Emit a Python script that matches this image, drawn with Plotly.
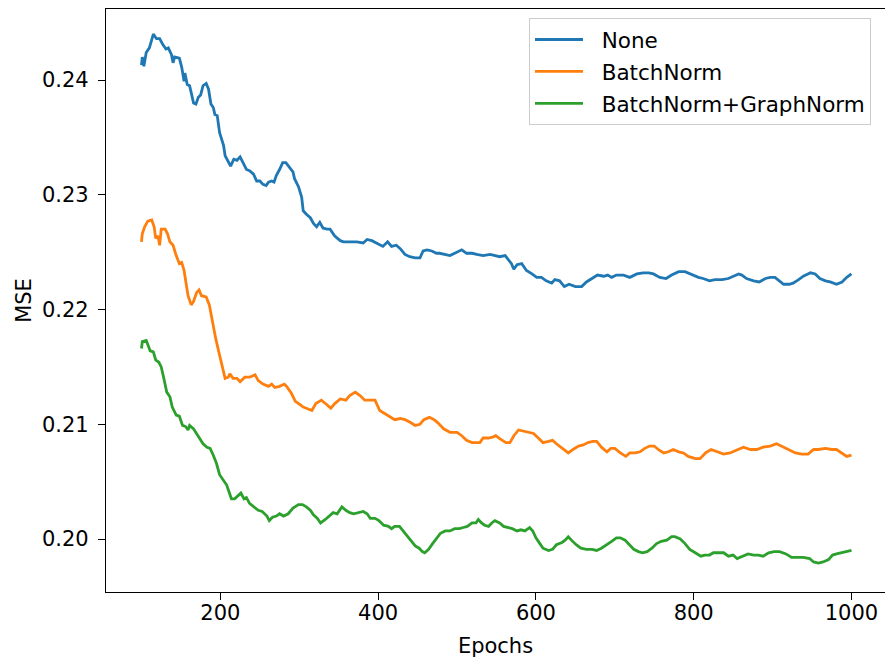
import plotly.graph_objects as go

# ---------------- data ----------------
series_names = ["None", "BatchNorm", "BatchNorm+GraphNorm"]
series_colors = ["#1f77b4", "#ff7f0e", "#2ca02c"]

epochs_none = [
    100, 101, 103, 106, 110, 115, 119, 123, 127, 131,
    134, 138, 140, 142, 148, 151, 154, 155, 158, 161,
    163, 166, 169, 172, 175, 178, 182, 185, 188, 191,
    193, 196, 199, 204, 206, 210, 213, 217, 221, 225,
    229, 233, 237, 242, 246, 250, 254, 258, 261, 265,
    268, 271, 275, 279, 283, 287, 292, 294, 299, 303,
    305, 309, 314, 318, 322, 326, 330, 335, 339, 345,
    352, 356, 364, 373, 381, 386, 392, 398, 402, 406,
    412, 417, 423, 428, 434, 440, 447, 453, 457, 462,
    468, 474, 478, 483, 491, 497, 506, 512, 519, 525,
    533, 542, 548, 554, 561, 565, 569, 572, 576, 582,
    588, 595, 601, 607, 613, 620, 624, 630, 636, 642,
    650, 658, 664, 671, 678, 686, 691, 696, 702, 711,
    719, 728, 736, 743, 749, 757, 765, 772, 781, 789,
    798, 806, 812, 820, 827, 836, 844, 850, 857, 861,
    867, 876, 883, 891, 897, 903, 909, 914, 921, 926,
    933, 939, 948, 954, 960, 967, 973, 978, 981, 988,
    994, 1000,
]
mse_none = [
    0.2413, 0.2420, 0.2412, 0.2424, 0.2428, 0.2440, 0.2436, 0.2436, 0.2431, 0.2427,
    0.2428, 0.2422, 0.2415, 0.2420, 0.2419, 0.2411, 0.2399, 0.2406, 0.2396, 0.2395,
    0.2389, 0.2380, 0.2379, 0.2385, 0.2387, 0.2395, 0.2397, 0.2392, 0.2379, 0.2376,
    0.2370, 0.2369, 0.2354, 0.2343, 0.2334, 0.2328, 0.2325, 0.2331, 0.2330, 0.2333,
    0.2327, 0.2322, 0.2321, 0.2318, 0.2312, 0.2312, 0.2309, 0.2308, 0.2311, 0.2312,
    0.2311, 0.2317, 0.2322, 0.2328, 0.2328, 0.2324, 0.2320, 0.2314, 0.2307, 0.2298,
    0.2286, 0.2283, 0.2280, 0.2275, 0.2272, 0.2276, 0.2271, 0.2270, 0.2270, 0.2264,
    0.2260, 0.2259, 0.2259, 0.2259, 0.2258, 0.2261, 0.2260, 0.2258, 0.2257, 0.2255,
    0.2259, 0.2255, 0.2256, 0.2253, 0.2248, 0.2246, 0.2245, 0.2245, 0.2251, 0.2252,
    0.2251, 0.2249, 0.2249, 0.2248, 0.2247, 0.2249, 0.2252, 0.2249, 0.2249, 0.2248,
    0.2247, 0.2248, 0.2247, 0.2246, 0.2247, 0.2243, 0.2240, 0.2235, 0.2239, 0.2240,
    0.2234, 0.2231, 0.2228, 0.2228, 0.2225, 0.2223, 0.2226, 0.2225, 0.2220, 0.2222,
    0.2220, 0.2220, 0.2224, 0.2227, 0.2230, 0.2229, 0.2230, 0.2228, 0.2230, 0.2230,
    0.2228, 0.2231, 0.2232, 0.2232, 0.2231, 0.2228, 0.2227, 0.2230, 0.2233, 0.2233,
    0.2230, 0.2228, 0.2227, 0.2225, 0.2226, 0.2226, 0.2227, 0.2229, 0.2231, 0.2230,
    0.2227, 0.2225, 0.2224, 0.2227, 0.2228, 0.2228, 0.2225, 0.2222, 0.2222, 0.2223,
    0.2226, 0.2229, 0.2232, 0.2231, 0.2227, 0.2225, 0.2224, 0.2223, 0.2222, 0.2224,
    0.2228, 0.2231,
]

epochs_bn = [
    100, 101, 104, 108, 113, 116, 118, 121, 123, 125,
    130, 133, 136, 140, 144, 148, 151, 154, 156, 159,
    163, 166, 170, 173, 176, 182, 186, 190, 194, 198,
    203, 206, 210, 212, 216, 221, 225, 231, 237, 244,
    248, 254, 261, 265, 269, 275, 281, 284, 290, 295,
    301, 305, 309, 316, 321, 328, 335, 340, 345, 352,
    359, 364, 371, 377, 383, 390, 396, 402, 409, 415,
    421, 428, 434, 440, 447, 453, 458, 465, 471, 476,
    483, 491, 500, 506, 512, 519, 524, 529, 533, 540,
    546, 549, 555, 562, 567, 572, 578, 584, 590, 597,
    603, 609, 616, 621, 626, 634, 641, 647, 654, 660,
    666, 672, 677, 683, 690, 695, 700, 707, 714, 719,
    726, 732, 738, 744, 750, 755, 762, 768, 774, 781,
    787, 793, 802, 808, 815, 822, 829, 838, 846, 855,
    863, 872, 880, 888, 897, 905, 914, 921, 929, 937,
    945, 952, 958, 967, 975, 981, 988, 994, 1000,
]
mse_bn = [
    0.2259, 0.2266, 0.2272, 0.2277, 0.2278, 0.2272, 0.2262, 0.2264, 0.2256, 0.2270,
    0.2270, 0.2266, 0.2259, 0.2256, 0.2247, 0.2240, 0.2241, 0.2234, 0.2225, 0.2212,
    0.2204, 0.2207, 0.2215, 0.2217, 0.2212, 0.2211, 0.2204, 0.2189, 0.2175, 0.2163,
    0.2149, 0.2140, 0.2141, 0.2144, 0.2140, 0.2140, 0.2137, 0.2141, 0.2141, 0.2143,
    0.2138, 0.2135, 0.2133, 0.2135, 0.2132, 0.2133, 0.2135, 0.2133, 0.2127, 0.2120,
    0.2117, 0.2115, 0.2114, 0.2112, 0.2118, 0.2121, 0.2117, 0.2114, 0.2118, 0.2122,
    0.2121, 0.2125, 0.2128, 0.2125, 0.2121, 0.2121, 0.2121, 0.2112, 0.2109, 0.2107,
    0.2104, 0.2105, 0.2104, 0.2102, 0.2099, 0.2100, 0.2104, 0.2106, 0.2104, 0.2101,
    0.2096, 0.2093, 0.2093, 0.2090, 0.2086, 0.2084, 0.2084, 0.2084, 0.2088, 0.2088,
    0.2089, 0.2090, 0.2087, 0.2084, 0.2084, 0.2090, 0.2095, 0.2094, 0.2093, 0.2092,
    0.2088, 0.2084, 0.2085, 0.2086, 0.2083, 0.2079, 0.2075, 0.2078, 0.2081, 0.2082,
    0.2084, 0.2085, 0.2085, 0.2080, 0.2076, 0.2079, 0.2079, 0.2075, 0.2072, 0.2075,
    0.2075, 0.2076, 0.2079, 0.2081, 0.2081, 0.2078, 0.2075, 0.2076, 0.2078, 0.2076,
    0.2075, 0.2072, 0.2070, 0.2070, 0.2075, 0.2078, 0.2076, 0.2074, 0.2075, 0.2078,
    0.2080, 0.2078, 0.2078, 0.2080, 0.2081, 0.2083, 0.2080, 0.2077, 0.2075, 0.2074,
    0.2074, 0.2078, 0.2078, 0.2079, 0.2078, 0.2078, 0.2075, 0.2072, 0.2073,
]

epochs_bn_gn = [
    100, 101, 106, 108, 111, 115, 118, 122, 125, 128,
    132, 136, 139, 144, 148, 152, 156, 159, 161, 166,
    170, 174, 178, 183, 187, 191, 195, 199, 204, 208,
    211, 214, 218, 223, 226, 230, 233, 237, 242, 248,
    253, 259, 262, 266, 271, 275, 280, 286, 292, 299,
    304, 309, 314, 318, 323, 327, 333, 338, 343, 348,
    354, 359, 364, 369, 375, 381, 386, 390, 396, 401,
    407, 413, 417, 421, 427, 432, 437, 442, 447, 452,
    456, 459, 464, 469, 474, 479, 485, 491, 497, 503,
    508, 513, 519, 524, 527, 531, 535, 540, 544, 548,
    554, 559, 565, 570, 576, 581, 586, 592, 596, 600,
    605, 609, 616, 621, 626, 633, 637, 641, 645, 651,
    657, 664, 671, 677, 683, 690, 696, 702, 707, 713,
    718, 724, 730, 735, 741, 747, 753, 759, 766, 772,
    776, 783, 789, 795, 802, 809, 814, 820, 825, 831,
    838, 844, 850, 855, 862, 869, 876, 882, 888, 895,
    902, 909, 917, 924, 932, 939, 947, 952, 958, 964,
    971, 976, 981, 988, 995, 1000,
]
mse_bn_gn = [
    0.2166, 0.2172, 0.2173, 0.2170, 0.2164, 0.2163, 0.2156, 0.2154, 0.2150, 0.2141,
    0.2128, 0.2124, 0.2115, 0.2108, 0.2107, 0.2099, 0.2098, 0.2095, 0.2099, 0.2096,
    0.2092, 0.2088, 0.2083, 0.2080, 0.2079, 0.2073, 0.2066, 0.2056, 0.2051, 0.2047,
    0.2041, 0.2035, 0.2035, 0.2038, 0.2040, 0.2035, 0.2036, 0.2031, 0.2028, 0.2025,
    0.2024, 0.2020, 0.2016, 0.2019, 0.2020, 0.2022, 0.2020, 0.2022, 0.2027, 0.2030,
    0.2030, 0.2028, 0.2025, 0.2021, 0.2018, 0.2014, 0.2017, 0.2020, 0.2023, 0.2022,
    0.2028, 0.2025, 0.2023, 0.2022, 0.2023, 0.2024, 0.2022, 0.2018, 0.2018, 0.2016,
    0.2012, 0.2011, 0.2009, 0.2011, 0.2011, 0.2007, 0.2002, 0.1998, 0.1994, 0.1992,
    0.1989, 0.1988, 0.1991, 0.1996, 0.2000, 0.2005, 0.2007, 0.2007, 0.2009, 0.2009,
    0.2010, 0.2011, 0.2014, 0.2014, 0.2017, 0.2014, 0.2012, 0.2011, 0.2014, 0.2016,
    0.2014, 0.2011, 0.2010, 0.2009, 0.2007, 0.2008, 0.2007, 0.2010, 0.2007, 0.2001,
    0.1996, 0.1992, 0.1990, 0.1991, 0.1995, 0.1997, 0.1999, 0.2002, 0.1999, 0.1995,
    0.1992, 0.1991, 0.1991, 0.1990, 0.1992, 0.1995, 0.1998, 0.2001, 0.2001, 0.1999,
    0.1995, 0.1991, 0.1989, 0.1988, 0.1989, 0.1992, 0.1996, 0.1998, 0.1999, 0.2002,
    0.2002, 0.2000, 0.1996, 0.1991, 0.1988, 0.1985, 0.1986, 0.1986, 0.1988, 0.1988,
    0.1988, 0.1985, 0.1986, 0.1983, 0.1985, 0.1987, 0.1986, 0.1986, 0.1985, 0.1988,
    0.1989, 0.1989, 0.1987, 0.1984, 0.1984, 0.1984, 0.1983, 0.1980, 0.1979, 0.1980,
    0.1982, 0.1986, 0.1987, 0.1988, 0.1989, 0.1990,
]

x_tick_values = [200, 400, 600, 800, 1000]
y_tick_values = [0.20, 0.21, 0.22, 0.23, 0.24]
x_label = "Epochs"
y_label = "MSE"

# ---------------- figure ----------------
FONT = "DejaVu Sans"
LEGEND_PAD = "\u00a0\u00a0"  # small gap between legend line sample and its label
fig = go.Figure()
for name, color, xs, ys in zip(
    series_names,
    series_colors,
    [epochs_none, epochs_bn, epochs_bn_gn],
    [mse_none, mse_bn, mse_bn_gn],
):
    fig.add_trace(
        go.Scatter(
            x=xs, y=ys, mode="lines", name=LEGEND_PAD + name, legendgroup=name,
            line=dict(color=color, width=2.8),
        )
    )

axis_common = dict(
    showline=True, linecolor="black", linewidth=1.3,
    ticks="outside", ticklen=7, tickwidth=1.3, tickcolor="black",
    showgrid=False, zeroline=False, automargin=False,
    tickfont=dict(family=FONT, size=21, color="black"),
)

fig.update_layout(
    width=885, height=660,
    margin=dict(l=106, r=0, t=9, b=68, pad=0, autoexpand=False),
    paper_bgcolor="white", plot_bgcolor="white",
    font=dict(family=FONT, size=21, color="black"),
    xaxis=dict(
        range=[55, 1042.5], tickvals=x_tick_values, ticklabelstandoff=-5,
        mirror=True,
        title=dict(text=x_label, font=dict(family=FONT, size=21, color="black"), standoff=13),
        **axis_common,
    ),
    yaxis=dict(
        range=[0.195381, 0.246187], tickvals=y_tick_values, tickformat=".2f",
        ticklabelstandoff=5, mirror=False,
        title=dict(text=y_label, font=dict(family=FONT, size=21, color="black"), standoff=4),
        **axis_common,
    ),
    legend=dict(
        x=(529 - 106) / 779, y=(592 - 18) / 583, xanchor="left", yanchor="top",
        bgcolor="rgba(255,255,255,0.8)", bordercolor="#cccccc", borderwidth=1,
        font=dict(family=FONT, size=21.5, color="black"),
        tracegroupgap=1, traceorder="grouped",
        itemwidth=48,
    ),
    showlegend=True,
)

fig.write_html(
    "out.html",
    config={"displayModeBar": False},
    post_script="document.body.style.margin='0px';document.body.style.padding='0px';",
)
